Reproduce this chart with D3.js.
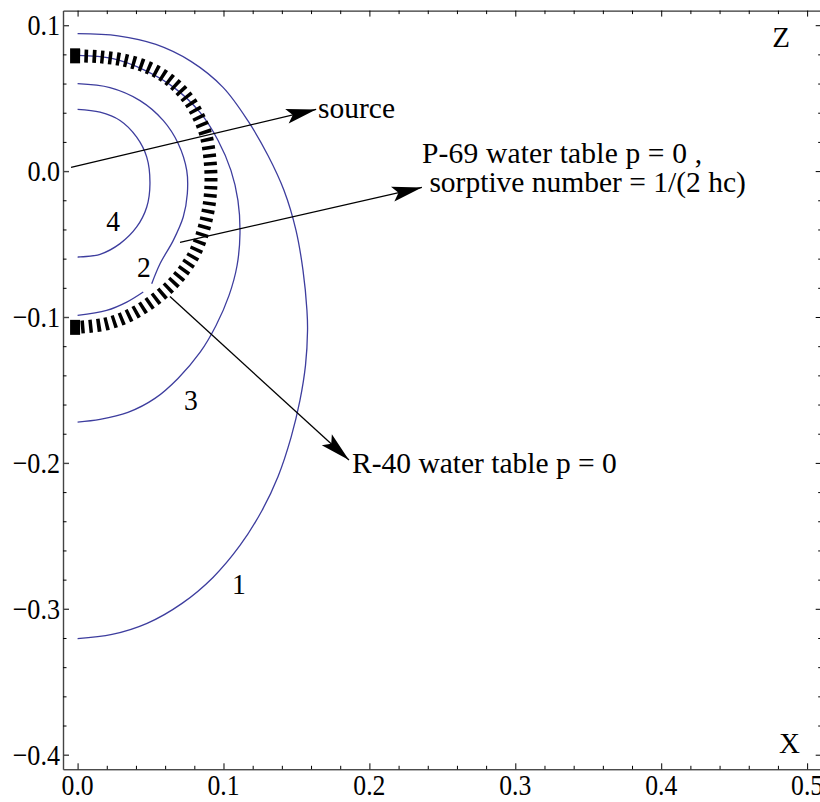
<!DOCTYPE html>
<html>
<head>
<meta charset="utf-8">
<script src="https://cdn.jsdelivr.net/npm/d3@7"></script>
<style>
  body { margin: 0; background: #fff; }
  text { font-family: "Liberation Serif", "Times New Roman", serif; fill: #000; }
</style>
</head>
<body>
<div id="chart"></div>
<script>
// tick values and labels
var xTickVals = [0, 0.1, 0.2, 0.3, 0.4, 0.5];
var xTickLabels = ["0.0", "0.1", "0.2", "0.3", "0.4", "0.5"];
var zTickVals = [0.1, 0, -0.1, -0.2, -0.3, -0.4];
var zTickLabels = ["0.1", "0.0", "\u22120.1", "\u22120.2", "\u22120.3", "\u22120.4"];

// contour lines: [x, z]
var contour1 = [[0, 0.0942], [0.0277, 0.0927], [0.0537, 0.0868], [0.0777, 0.0752], [0.0997, 0.0574],
  [0.1168, 0.0344], [0.1305, 0.0107], [0.1415, -0.0133], [0.1497, -0.0406], [0.1545, -0.0681],
  [0.1572, -0.0955], [0.1576, -0.1093], [0.1562, -0.1332], [0.1524, -0.1572], [0.1463, -0.1825],
  [0.1374, -0.2093], [0.1264, -0.2326], [0.1113, -0.2566], [0.0928, -0.2785], [0.0716, -0.2963],
  [0.0476, -0.3100], [0.0236, -0.3176], [0, -0.3205]];
var contour3 = [[0, 0.0793], [0.0236, 0.0772], [0.0462, 0.0690], [0.0668, 0.0567], [0.0839, 0.0402],
  [0.0963, 0.0210], [0.1051, 0.0005], [0.1099, -0.0201], [0.1113, -0.0427], [0.1093, -0.0647],
  [0.1038, -0.0852], [0.0949, -0.1058], [0.0839, -0.1243], [0.0688, -0.1421], [0.0530, -0.1558],
  [0.0345, -0.1654], [0.0154, -0.1702], [0, -0.1720]];
var contour2 = [[0, 0.0599], [0.0222, 0.0572], [0.0428, 0.0483], [0.0588, 0.0346], [0.0690, 0.0188],
  [0.0748, 0.0005], [0.0752, -0.0155], [0.0724, -0.0315], [0.0656, -0.0475], [0.0565, -0.0635],
  [0.0508, -0.0772], null, [0.0450, -0.0829], [0.0337, -0.0898], [0.0199, -0.0955], [0, -0.0989]];
var contour4 = [[0, 0.0423], [0.0154, 0.0404], [0.0291, 0.0347], [0.0405, 0.0233], [0.0474, 0.0096],
  [0.0496, -0.0086], [0.0474, -0.0246], [0.0405, -0.0383], [0.0291, -0.0497], [0.0154, -0.0570],
  [0, -0.0589]];
var contourNames = ["1", "2", "3", "4"];
var contourLabelAt = [[0.1106, -0.2826], [0.0455, -0.0654], [0.0777, -0.1565], [0.0243, -0.0339]];

// P-69 water table (thick dashed)
var waterTableP69 = [[0, 0.0790], [0.0154, 0.0783], [0.0325, 0.0759], [0.0496, 0.0704], [0.0634, 0.0622],
  [0.0750, 0.0505], [0.0825, 0.0382], [0.0880, 0.0245], [0.0908, 0.0073], [0.0914, -0.0084],
  [0.0901, -0.0235], [0.0866, -0.0393], [0.0812, -0.0544], [0.0737, -0.0668], [0.0640, -0.0784],
  [0.0496, -0.0905], [0.0345, -0.0994], [0.0188, -0.1049], [0, -0.1071]];

// arrows [from, to] and their labels
var arrowFrom = [[-0.0045, 0.0025], [0.0702, -0.0489], [0.0633, -0.0860]];
var arrowTo = [[0.1635, 0.0423], [0.236, -0.0112], [0.186, -0.1980]];
var arrowText = [["source"], ["P-69 water table p = 0 ,", " sorptive number = 1/(2 hc)"], ["R-40 water table p = 0"]];

var W = 820, H = 802;
var x = d3.scaleLinear().domain([-0.01, 0.51]).range([63, 821.7]);
var y = d3.scaleLinear().domain([-0.41, 0.11]).range([769.3, 10.6]);

var svg = d3.select("#chart").append("svg")
  .attr("width", W)
  .attr("height", H);

var defs = svg.append("defs");
defs.append("marker")
  .attr("id", "head")
  .attr("markerUnits", "userSpaceOnUse")
  .attr("viewBox", "-32 -10 34 20")
  .attr("markerWidth", 34)
  .attr("markerHeight", 20)
  .attr("refX", 0)
  .attr("refY", 0)
  .attr("orient", "auto")
  .append("path")
  .attr("d", "M0,0L-30,-7.5L-24,0L-30,7.5Z")
  .attr("fill", "#000");

var minorX = d3.range(0, 0.5001, 0.02).filter(function (d) { return Math.abs(d * 10 - Math.round(d * 10)) > 1e-6; });
var minorZ = d3.range(-0.4, 0.1001, 0.02).filter(function (d) { return Math.abs(d * 10 - Math.round(d * 10)) > 1e-6; });

// frame with major ticks (labels drawn separately)
function frameAxis(axis, tr, left) {
  var g = svg.append("g").attr("transform", tr)
    .call(axis.tickSizeInner(-6).tickSizeOuter(0).tickFormat(""));
  g.selectAll("line,path").attr("stroke", left ? "#444" : "#000").attr("stroke-width", left ? 1.4 : 1);
  return g;
}
frameAxis(d3.axisBottom(x).tickValues(xTickVals), "translate(0," + y.range()[0] + ")");
frameAxis(d3.axisTop(x).tickValues(xTickVals), "translate(0," + y.range()[1] + ")");
frameAxis(d3.axisLeft(y).tickValues(zTickVals), "translate(" + x.range()[0] + ",0)", true);
frameAxis(d3.axisRight(y).tickValues(zTickVals), "translate(" + x.range()[1] + ",0)");

function minorAxis(axis, tr) {
  var g = svg.append("g").attr("transform", tr)
    .call(axis.tickSizeInner(-3.5).tickSizeOuter(0).tickFormat(""));
  g.select(".domain").remove();
  g.selectAll("line").attr("stroke", "#000").attr("stroke-width", 1);
}
minorAxis(d3.axisBottom(x).tickValues(minorX), "translate(0," + y.range()[0] + ")");
minorAxis(d3.axisTop(x).tickValues(minorX), "translate(0," + y.range()[1] + ")");
minorAxis(d3.axisLeft(y).tickValues(minorZ), "translate(" + x.range()[0] + ",0)");
minorAxis(d3.axisRight(y).tickValues(minorZ), "translate(" + x.range()[1] + ",0)");

// tick labels: slightly narrow, tall serif like the original
svg.selectAll(".xlab")
  .data(xTickVals)
  .enter().append("text")
  .attr("class", "xlab")
  .attr("transform", function (d) { return "translate(" + x(d) + "," + (y.range()[0] + 25.5) + ") scale(0.87,1)"; })
  .attr("text-anchor", "middle")
  .style("font-size", "29.5px")
  .text(function (d, i) { return xTickLabels[i]; });

svg.selectAll(".zlab")
  .data(zTickVals)
  .enter().append("text")
  .attr("class", "zlab")
  .attr("transform", function (d) { return "translate(" + (x.range()[0] - 3) + "," + y(d) + ") scale(0.87,1)"; })
  .attr("dy", "0.34em")
  .attr("text-anchor", "end")
  .style("font-size", "30px")
  .text(function (d, i) { return zTickLabels[i]; });

var line = d3.line()
  .defined(function (d) { return d !== null; })
  .x(function (d) { return x(d[0]); })
  .y(function (d) { return y(d[1]); })
  .curve(d3.curveCatmullRom.alpha(0.5));

var plot = svg.append("g");

plot.selectAll(".contour")
  .data([contour1, contour2, contour3, contour4])
  .enter().append("path")
  .attr("class", "contour")
  .attr("d", line)
  .attr("fill", "none")
  .attr("stroke", "#3d3d9e")
  .attr("stroke-width", 1.3);

plot.selectAll(".clabel")
  .data(contourLabelAt)
  .enter().append("text")
  .attr("class", "clabel")
  .attr("transform", function (d) { return "translate(" + x(d[0]) + "," + y(d[1]) + ") scale(0.92,1)"; })
  .attr("dy", "0.35em")
  .attr("text-anchor", "middle")
  .style("font-size", "30px")
  .text(function (d, i) { return contourNames[i]; });

// thick dashed water table line
plot.append("path")
  .attr("d", line(waterTableP69))
  .attr("fill", "none")
  .attr("stroke", "#000")
  .attr("stroke-width", 13)
  .attr("stroke-dasharray", "3.5,4.5")
  .attr("stroke-dashoffset", 1);

plot.selectAll(".endcap")
  .data([waterTableP69[0], waterTableP69[waterTableP69.length - 1]])
  .enter().append("rect")
  .attr("class", "endcap")
  .attr("x", function (d) { return x(d[0]) - 7.5; })
  .attr("y", function (d) { return y(d[1]) - 7.5; })
  .attr("width", 10)
  .attr("height", 15)
  .attr("fill", "#000");

// arrows
plot.selectAll(".arrow")
  .data(arrowFrom)
  .enter().append("line")
  .attr("class", "arrow")
  .attr("x1", function (d) { return x(d[0]); })
  .attr("y1", function (d) { return y(d[1]); })
  .attr("x2", function (d, i) { return x(arrowTo[i][0]); })
  .attr("y2", function (d, i) { return y(arrowTo[i][1]); })
  .attr("stroke", "#000")
  .attr("stroke-width", 1.3)
  .attr("marker-end", "url(#head)");

// arrow labels
var labelPos = [[318, 118], [422, 163], [352, 473]];
var lineWidths = [[null], [280, null], [null]];
arrowText.forEach(function (lines, i) {
  lines.forEach(function (s, j) {
    var t = plot.append("text")
      .attr("x", labelPos[i][0])
      .attr("y", labelPos[i][1] + j * 29)
      .style("font-size", "29.5px")
      .style("white-space", "pre")
      .text(s);
    if (lineWidths[i][j]) t.attr("textLength", lineWidths[i][j]).attr("lengthAdjust", "spacing");
  });
});

// axis names inside the frame
svg.append("text")
  .attr("x", 790).attr("y", 47)
  .attr("text-anchor", "end")
  .style("font-size", "29px")
  .text("Z");
svg.append("text")
  .attr("x", 800).attr("y", 753)
  .attr("text-anchor", "end")
  .style("font-size", "29px")
  .text("X");
</script>
</body>
</html>
